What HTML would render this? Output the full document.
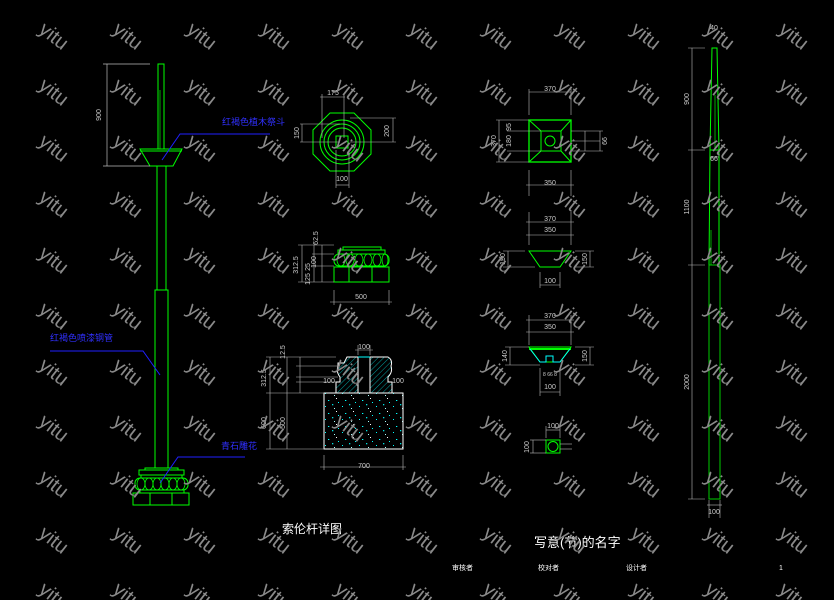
<!DOCTYPE html>
<html><head><meta charset="utf-8"><style>
html,body{margin:0;padding:0;background:#000;}
svg{display:block;}
text{font-family:"Liberation Sans","Noto Sans CJK SC",sans-serif;}
</style></head><body>
<svg width="834" height="600" viewBox="0 0 834 600" xmlns="http://www.w3.org/2000/svg">
<defs>
<pattern id="wm" x="0" y="0" width="74" height="56" patternUnits="userSpaceOnUse">
<text x="53" y="37" text-anchor="middle" dominant-baseline="middle" fill="#8a8a8a" font-size="20" transform="rotate(38 53 37)" style="font-family:'Liberation Sans',sans-serif">yitu</text>
</pattern>
<pattern id="hatch" width="4" height="4" patternUnits="userSpaceOnUse" patternTransform="rotate(45)">
<line x1="0" y1="0" x2="0" y2="4" stroke="#00c8c8" stroke-width="0.8"/>
</pattern>
<pattern id="spk" width="17" height="13" patternUnits="userSpaceOnUse">
<rect x="2" y="3" width="1" height="1" fill="#00ffff"/><rect x="9" y="1" width="1.3" height="1.3" fill="#00e0e0"/>
<rect x="13" y="8" width="1" height="1" fill="#fff"/><rect x="5" y="10" width="1.3" height="1" fill="#00ffff"/>
<rect x="11" y="5" width="1" height="1" fill="#aaffff"/><rect x="15" y="12" width="1" height="1" fill="#00ffff"/>
</pattern>
</defs>
<rect width="834" height="600" fill="#000"/>

<g fill="none" stroke-width="1">
<g stroke="#0f0">
<rect x="158" y="64" width="6" height="85"/>
<line x1="160" y1="90" x2="160" y2="149" stroke="#0a0"/>
<polygon points="140,149 182,149 173,166 150,166"/>
<line x1="140" y1="151" x2="182" y2="151"/>
<rect x="157" y="166" width="9" height="124"/>
<rect x="155" y="290" width="13" height="178"/>
<rect x="145" y="468" width="33" height="2"/>
<rect x="139" y="470" width="45" height="5"/>
<rect x="141" y="475" width="41" height="3"/>
<rect x="135" y="478" width="53" height="12" rx="5"/>
<g stroke-width="0.8">
<ellipse cx="141" cy="484" rx="4" ry="6"/><ellipse cx="149" cy="484" rx="4" ry="6"/><ellipse cx="157" cy="484" rx="4" ry="6"/><ellipse cx="165" cy="484" rx="4" ry="6"/><ellipse cx="173" cy="484" rx="4" ry="6"/><ellipse cx="181" cy="484" rx="4" ry="6"/>
</g>
<rect x="140" y="490" width="44" height="3"/>
<rect x="133" y="493" width="56" height="12"/>
<line x1="150" y1="493" x2="150" y2="505"/><line x1="172" y1="493" x2="172" y2="505"/>
</g>
<g stroke="#bbb" stroke-width="0.7">
<line x1="107" y1="64" x2="107" y2="166"/>
<line x1="103" y1="64" x2="150" y2="64"/><line x1="103" y1="166" x2="150" y2="166"/>
</g>
<g stroke="#2020ff">
<polyline points="162,160 180,134 270,134"/>
<polyline points="50,351 143,351 160,375"/>
<polyline points="160,483 178,457 245,457"/>
</g>

<g stroke="#0f0">
<polygon points="330,113 354,113 371,130 371,154 354,171 330,171 313,154 313,130"/>
<circle cx="342" cy="142" r="22"/><circle cx="342" cy="142" r="18"/><circle cx="342" cy="142" r="14"/>
<rect x="336" y="136" width="12" height="12"/>
</g>
<g stroke="#bbb" stroke-width="0.6">
<line x1="320" y1="97" x2="345" y2="97"/><line x1="322" y1="94" x2="322" y2="138"/><line x1="344" y1="94" x2="344" y2="138"/>
<line x1="302" y1="124" x2="302" y2="142"/><line x1="300" y1="124" x2="340" y2="124"/><line x1="300" y1="142" x2="340" y2="142"/>
<line x1="393" y1="118" x2="393" y2="142"/><line x1="350" y1="118" x2="396" y2="118"/><line x1="350" y1="142" x2="396" y2="142"/>
<line x1="336" y1="185" x2="349" y2="185"/><line x1="336" y1="150" x2="336" y2="188"/><line x1="349" y1="150" x2="349" y2="188"/>
</g>

<g stroke="#0f0">
<rect x="343" y="247" width="38" height="3"/>
<rect x="338" y="250" width="47" height="4"/>
<rect x="334" y="254" width="55" height="12" rx="5"/>
<g stroke-width="0.8">
<ellipse cx="341" cy="260" rx="4" ry="6"/><ellipse cx="350" cy="260" rx="4" ry="6"/><ellipse cx="359" cy="260" rx="4" ry="6"/><ellipse cx="368" cy="260" rx="4" ry="6"/><ellipse cx="377" cy="260" rx="4" ry="6"/><ellipse cx="385" cy="260" rx="3" ry="6"/>
</g>
<rect x="334" y="267" width="55" height="15"/>
<line x1="349" y1="267" x2="349" y2="282"/><line x1="372" y1="267" x2="372" y2="282"/>
</g>
<g stroke="#bbb" stroke-width="0.6">
<line x1="302" y1="245" x2="302" y2="282"/><line x1="314" y1="245" x2="314" y2="282"/><line x1="322" y1="245" x2="322" y2="282"/>
<line x1="298" y1="245" x2="334" y2="245"/><line x1="298" y1="282" x2="334" y2="282"/><line x1="312" y1="266" x2="334" y2="266"/><line x1="312" y1="254" x2="334" y2="254"/>
<line x1="334" y1="290" x2="334" y2="305"/><line x1="389" y1="290" x2="389" y2="305"/><line x1="330" y1="302" x2="392" y2="302"/>
</g>

<rect x="324" y="393" width="79" height="56" fill="url(#spk)" stroke="#fff"/>
<path d="M347,357 L388,357 Q393,360 391,366 Q393,372 388,377 L388,382 L392,382 L392,393 L336,393 L336,382 L340,382 L340,377 Q336,372 338,366 L338,363 L344,363 Z" fill="url(#hatch)" stroke="#fff"/>
<rect x="358" y="357" width="12" height="36" fill="#000" stroke="#fff"/>
<line x1="358" y1="357" x2="370" y2="357" stroke="#0ff"/>
<g stroke="#bbb" stroke-width="0.6">
<line x1="270" y1="357" x2="270" y2="449"/><line x1="287" y1="357" x2="287" y2="449"/><line x1="300" y1="357" x2="300" y2="393"/>
<line x1="266" y1="357" x2="336" y2="357"/><line x1="266" y1="393" x2="324" y2="393"/><line x1="266" y1="449" x2="324" y2="449"/>
<line x1="296" y1="366" x2="338" y2="366"/><line x1="296" y1="377" x2="338" y2="377"/><line x1="296" y1="382" x2="336" y2="382"/>
<line x1="324" y1="455" x2="324" y2="470"/><line x1="403" y1="455" x2="403" y2="470"/><line x1="320" y1="467" x2="406" y2="467"/>
<line x1="355" y1="350" x2="373" y2="350"/><line x1="358" y1="345" x2="358" y2="355"/><line x1="370" y1="345" x2="370" y2="355"/>
</g>

<g stroke="#0f0">
<rect x="529" y="120" width="42" height="42" stroke-width="1.3"/>
<rect x="541" y="131" width="20" height="20"/>
<line x1="529" y1="120" x2="541" y2="131"/><line x1="571" y1="120" x2="561" y2="131"/><line x1="529" y1="162" x2="541" y2="151"/><line x1="571" y1="162" x2="561" y2="151"/>
<circle cx="550" cy="141" r="5"/>
<polygon points="529,251 571,251 560,267 540,267"/>
<line x1="529" y1="349" x2="571" y2="349" stroke-width="2"/>
<polygon points="529,347 571,347 560,362 540,362" />
<rect x="546" y="440" width="14" height="13"/><circle cx="553" cy="446.5" r="5"/>
</g>
<polyline points="530,349 540,362 546,362 546,356 553,356 553,362 560,362 570,349" fill="none" stroke="#0ff"/>
<g stroke="#bbb" stroke-width="0.6">
<line x1="529" y1="92" x2="571" y2="92"/><line x1="529" y1="89" x2="529" y2="115"/><line x1="571" y1="89" x2="571" y2="115"/>
<line x1="499" y1="120" x2="499" y2="162"/><line x1="496" y1="120" x2="529" y2="120"/><line x1="496" y1="162" x2="529" y2="162"/><line x1="507" y1="131" x2="541" y2="131"/><line x1="507" y1="151" x2="541" y2="151"/>
<line x1="585" y1="131" x2="585" y2="151"/><line x1="600" y1="131" x2="600" y2="151"/><line x1="571" y1="131" x2="603" y2="131"/><line x1="571" y1="151" x2="603" y2="151"/><line x1="571" y1="141" x2="600" y2="141"/>
<line x1="526" y1="185" x2="574" y2="185"/><line x1="529" y1="170" x2="529" y2="196"/><line x1="571" y1="170" x2="571" y2="196"/>
<line x1="526" y1="222" x2="574" y2="222"/><line x1="526" y1="235" x2="574" y2="235"/><line x1="529" y1="212" x2="529" y2="245"/><line x1="571" y1="212" x2="571" y2="245"/>
<line x1="508" y1="251" x2="508" y2="267"/><line x1="503" y1="251" x2="525" y2="251"/><line x1="503" y1="267" x2="535" y2="267"/>
<line x1="590" y1="251" x2="590" y2="267"/><line x1="575" y1="251" x2="594" y2="251"/><line x1="575" y1="267" x2="594" y2="267"/>
<line x1="540" y1="285" x2="560" y2="285"/><line x1="540" y1="272" x2="540" y2="288"/><line x1="560" y1="272" x2="560" y2="288"/>
<line x1="526" y1="320" x2="574" y2="320"/><line x1="526" y1="332" x2="574" y2="332"/><line x1="529" y1="315" x2="529" y2="345"/><line x1="571" y1="315" x2="571" y2="345"/>
<line x1="510" y1="347" x2="510" y2="365"/><line x1="505" y1="347" x2="529" y2="347"/><line x1="505" y1="365" x2="540" y2="365"/>
<line x1="590" y1="347" x2="590" y2="365"/><line x1="575" y1="347" x2="594" y2="347"/><line x1="575" y1="365" x2="594" y2="365"/>
<line x1="540" y1="392" x2="560" y2="392"/><line x1="540" y1="368" x2="540" y2="396"/><line x1="560" y1="368" x2="560" y2="396"/>
<line x1="546" y1="430" x2="560" y2="430"/><line x1="546" y1="426" x2="546" y2="438"/><line x1="560" y1="426" x2="560" y2="438"/>
<line x1="533" y1="440" x2="533" y2="453"/><line x1="530" y1="440" x2="546" y2="440"/><line x1="530" y1="453" x2="546" y2="453"/>
<line x1="560" y1="444" x2="572" y2="444"/><line x1="560" y1="449" x2="572" y2="449"/>
</g>

<g stroke="#0f0">
<polygon points="712,48 717,48 719,150 719,265 709,265 710,150"/>
<line x1="710" y1="150" x2="719" y2="150"/>
<line x1="715" y1="95" x2="715" y2="150" stroke="#0a0"/><line x1="711" y1="230" x2="711" y2="265" stroke="#0a0"/>
</g>
<rect x="709" y="265" width="11" height="234" fill="none" stroke="#0c0"/>
<g stroke="#bbb" stroke-width="0.6">
<line x1="692" y1="48" x2="692" y2="499"/>
<line x1="688" y1="48" x2="705" y2="48"/><line x1="688" y1="150" x2="705" y2="150"/><line x1="688" y1="265" x2="705" y2="265"/><line x1="688" y1="499" x2="705" y2="499"/>
<line x1="707" y1="505" x2="722" y2="505"/><line x1="709" y1="500" x2="709" y2="518"/><line x1="720" y1="500" x2="720" y2="518"/>
<line x1="710" y1="157" x2="719" y2="157"/>
</g>
</g>

<g fill="#ccc" font-size="7">
<text x="101" y="115" transform="rotate(-90 101 115)" text-anchor="middle">900</text>
<text x="333" y="95" text-anchor="middle">175</text>
<text x="299" y="133" transform="rotate(-90 299 133)" text-anchor="middle">150</text>
<text x="389" y="131" transform="rotate(-90 389 131)" text-anchor="middle">200</text>
<text x="342" y="181" text-anchor="middle">100</text>
<text x="298" y="265" transform="rotate(-90 298 265)" text-anchor="middle">312.5</text>
<text x="318" y="238" transform="rotate(-90 318 238)" text-anchor="middle">62.5</text>
<text x="310" y="267" transform="rotate(-90 310 267)" text-anchor="middle">25</text>
<text x="316" y="262" transform="rotate(-90 316 262)" text-anchor="middle">100</text>
<text x="310" y="279" transform="rotate(-90 310 279)" text-anchor="middle">125</text>
<text x="361" y="299" text-anchor="middle">500</text>
<text x="266" y="378" transform="rotate(-90 266 378)" text-anchor="middle">312.5</text>
<text x="285" y="352" transform="rotate(-90 285 352)" text-anchor="middle">12.5</text>
<text x="266" y="423" transform="rotate(-90 266 423)" text-anchor="middle">600</text>
<text x="285" y="423" transform="rotate(-90 285 423)" text-anchor="middle">500</text>
<text x="329" y="383" text-anchor="middle">100</text>
<text x="398" y="383" text-anchor="middle">100</text>
<text x="364" y="349" text-anchor="middle">100</text>
<text x="364" y="468" text-anchor="middle">700</text>
<text x="550" y="91" text-anchor="middle">370</text>
<text x="550" y="185" text-anchor="middle">350</text>
<text x="496" y="141" transform="rotate(-90 496 141)" text-anchor="middle">370</text>
<text x="511" y="127" transform="rotate(-90 511 127)" text-anchor="middle">95</text>
<text x="511" y="141" transform="rotate(-90 511 141)" text-anchor="middle">180</text>
<text x="607" y="141" transform="rotate(-90 607 141)" text-anchor="middle">66</text>
<text x="550" y="221" text-anchor="middle">370</text>
<text x="550" y="232" text-anchor="middle">350</text>
<text x="505" y="259" transform="rotate(-90 505 259)" text-anchor="middle">150</text>
<text x="587" y="259" transform="rotate(-90 587 259)" text-anchor="middle">150</text>
<text x="550" y="283" text-anchor="middle">100</text>
<text x="550" y="318" text-anchor="middle">370</text>
<text x="550" y="329" text-anchor="middle">350</text>
<text x="507" y="356" transform="rotate(-90 507 356)" text-anchor="middle">140</text>
<text x="587" y="356" transform="rotate(-90 587 356)" text-anchor="middle">150</text>
<text x="550" y="376" text-anchor="middle" font-size="5">8 66 8</text>
<text x="550" y="389" text-anchor="middle">100</text>
<text x="553" y="428" text-anchor="middle">100</text>
<text x="529" y="447" transform="rotate(-90 529 447)" text-anchor="middle">100</text>
<text x="689" y="99" transform="rotate(-90 689 99)" text-anchor="middle">900</text>
<text x="689" y="207" transform="rotate(-90 689 207)" text-anchor="middle">1100</text>
<text x="689" y="382" transform="rotate(-90 689 382)" text-anchor="middle">2000</text>
<text x="714" y="514" text-anchor="middle">100</text>
<text x="714" y="30" text-anchor="middle">40</text>
<text x="714" y="161" text-anchor="middle">66</text>
</g>
<g fill="#3030ff" font-size="9">
<text x="222" y="125">红褐色植木祭斗</text>
<text x="50" y="341">红褐色喷漆钢管</text>
<text x="221" y="449">青石雕花</text>
</g>
<g fill="#fff">
<text x="282" y="533" font-size="12">索伦杆详图</text>
<text x="534" y="547" font-size="13">写意(节)的名字</text>
<text x="452" y="570" font-size="7">审核者</text>
<text x="538" y="570" font-size="7">校对者</text>
<text x="626" y="570" font-size="7">设计者</text>
<text x="779" y="570" font-size="7">1</text>
</g>

<rect width="834" height="600" fill="url(#wm)"/>
</svg>
</body></html>
